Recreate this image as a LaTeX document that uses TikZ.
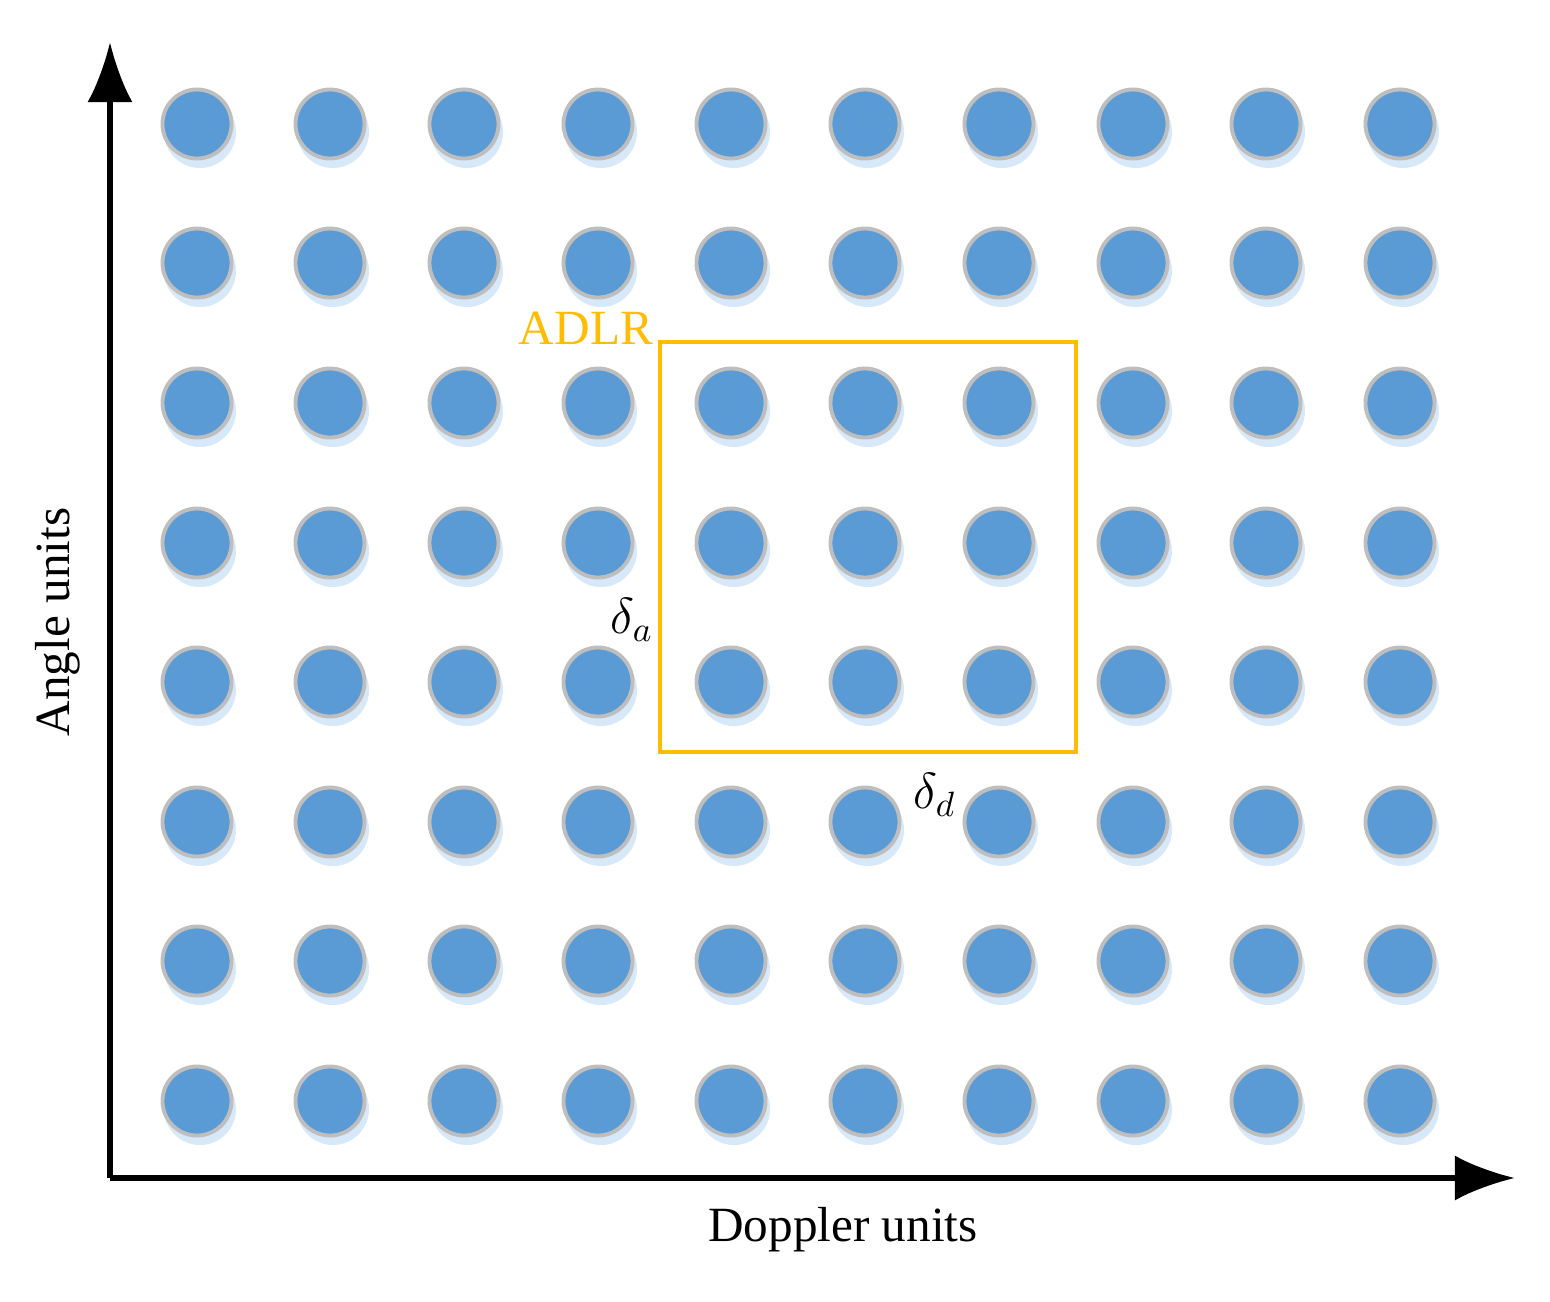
\documentclass[tikz,border=0pt]{standalone}
\usepackage{fontspec}
\setmainfont{Liberation Serif}
\begin{document}
\begin{tikzpicture}[x=0.01cm,y=-0.01cm,
  dot/.style={circle,fill={rgb,255:red,91;green,155;blue,213},draw={rgb,255:red,190;green,190;blue,190},line width=1.1pt,minimum size=0.69cm,inner sep=0pt},
  shad/.style={circle,fill={rgb,255:red,215;green,232;blue,248},minimum size=0.72cm,inner sep=0pt},
  axis/.style={line width=1.6pt,-{Latex[length=0.6cm,width=0.45cm]}}]
\usetikzlibrary{arrows.meta}
\useasboundingbox (0,0) rectangle (1550,1302);
\definecolor{adlr}{RGB}{255,188,0}
\foreach \c [count=\i] in {197,330,464,598,731,865,999,1133,1266,1400}{
  \foreach \r [count=\j] in {124,263,403,543,682,822,961,1101}{
    \node[shad] (s\i-\j) at (\c+3,\r+8) {};
    \node[dot] (d\i-\j) at (\c,\r) {};
  }}
\coordinate (o) at (110,1178);
\coordinate (ytip) at (110,42);
\coordinate (xtip) at (1515,1178);
\draw[axis] (o) -- (ytip);
\draw[axis] (o) -- (xtip);
\draw[adlr,line width=1.3pt] (660,342) rectangle (1076,752);
\node[adlr,font=\fontsize{14}{16}\selectfont] (adlr) at (586,328) {ADLR};
\node[font=\fontsize{14}{16}\selectfont] (da) at (632,620) {$\delta_a$};
\node[font=\fontsize{14}{16}\selectfont] (dd) at (935,795) {$\delta_d$};
\node[font=\fontsize{14}{16}\selectfont] (xl) at (843,1230) {Doppler units};
\node[font=\fontsize{14}{16}\selectfont,rotate=90] (yl) at (58,622) {Angle units};
\end{tikzpicture}
\end{document}
